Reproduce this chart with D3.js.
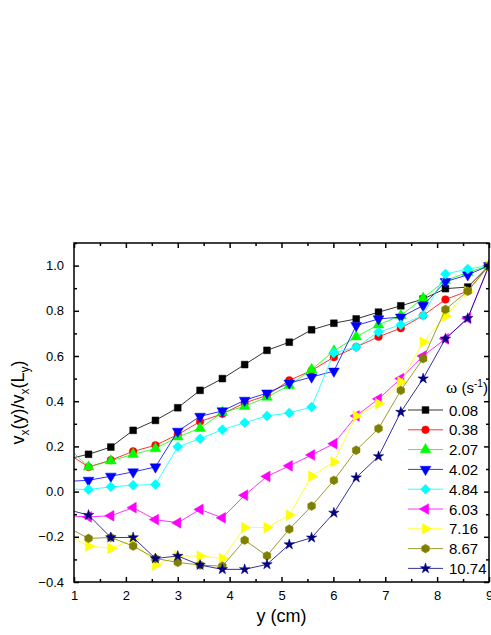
<!DOCTYPE html>
<html>
<head>
<meta charset="utf-8">
<script src="https://cdn.jsdelivr.net/npm/d3@7"></script>
<style>
  body { margin: 0; background: #fff; }
  text { font-family: Arial, "Liberation Sans", sans-serif; fill: #000; }
</style>
</head>
<body>
<div id="chart"></div>
<script>
// positions along y (cm); first point sits left of the axis and gets clipped
var yPos = [0.85, 1.28, 1.71, 2.14, 2.57, 3.0, 3.43, 3.86, 4.29, 4.72, 5.15, 5.58, 6.01, 6.44, 6.87, 7.3, 7.73, 8.16, 8.59, 9.0];

var omegaLabels = ["0.08", "0.38", "2.07", "4.02", "4.84", "6.03", "7.16", "8.67", "10.74"];

var v008 = [0.143, 0.165, 0.197, 0.271, 0.315, 0.371, 0.448, 0.50, 0.562, 0.625, 0.661, 0.716, 0.745, 0.764, 0.794, 0.822, 0.852, 0.898, 0.905, 1.0];
var v038 = [0.173, 0.109, 0.139, 0.178, 0.205, 0.252, 0.310, 0.344, 0.392, 0.426, 0.492, 0.536, 0.595, 0.640, 0.685, 0.723, 0.779, 0.850, 0.887, 1.0];
var v207 = [0.203, 0.109, 0.136, 0.165, 0.190, 0.242, 0.280, 0.350, 0.377, 0.418, 0.470, 0.540, 0.622, 0.685, 0.738, 0.779, 0.856, 0.934, 0.970, 1.0];
var v402 = [0.045, 0.050, 0.068, 0.087, 0.109, 0.267, 0.333, 0.357, 0.404, 0.436, 0.480, 0.507, 0.533, 0.735, 0.764, 0.772, 0.823, 0.929, 0.959, 1.0];
var v484 = [0.012, 0.009, 0.021, 0.028, 0.031, 0.198, 0.234, 0.274, 0.305, 0.335, 0.348, 0.374, 0.614, 0.639, 0.706, 0.738, 0.779, 0.963, 0.985, 1.0];
var v603 = [-0.107, -0.112, -0.107, -0.071, -0.124, -0.138, -0.079, -0.116, -0.016, 0.067, 0.114, 0.162, 0.212, 0.335, 0.410, 0.500, 0.600, 0.676, 0.767, 1.0];
var v716 = [-0.189, -0.241, -0.251, -0.212, -0.325, -0.285, -0.285, -0.296, -0.159, -0.159, -0.104, 0.068, 0.131, 0.335, 0.389, 0.485, 0.661, 0.776, 0.885, 1.0];
var v867 = [-0.155, -0.207, -0.203, -0.241, -0.296, -0.313, -0.325, -0.330, -0.215, -0.284, -0.166, -0.064, 0.050, 0.183, 0.279, 0.448, 0.588, 0.806, 0.887, 1.0];
var v1074 = [-0.078, -0.104, -0.203, -0.203, -0.296, -0.285, -0.325, -0.344, -0.344, -0.322, -0.234, -0.204, -0.094, 0.062, 0.156, 0.352, 0.500, 0.676, 0.767, 1.0];

var xTicks = [1, 2, 3, 4, 5, 6, 7, 8, 9];
var yTicks = [-0.4, -0.2, 0.0, 0.2, 0.4, 0.6, 0.8, 1.0];

var allValues = [v008, v038, v207, v402, v484, v603, v716, v867, v1074];
var colors = ["#000000", "#ff0000", "#00ff00", "#0000ff", "#00ffff", "#ff00ff", "#ffff00", "#808000", "#000080"];
var shapes = ["square", "circle", "up", "down", "diamond", "left", "right", "hex", "star"];

var series = omegaLabels.map(function(lab, i) {
  return {
    label: lab, color: colors[i], shape: shapes[i],
    points: yPos.map(function(x, j) { return {x: x, v: allValues[i][j]}; })
  };
});

var margin = {top: 243, right: 2, bottom: 53, left: 74};
var W = 491, H = 635;
var width = W - margin.left - margin.right;
var height = H - margin.top - margin.bottom;

var x = d3.scaleLinear().domain([1, 9]).range([0, width]);
var y = d3.scaleLinear().domain([-0.4, 1.1]).range([height, 0]);

var svg = d3.select("#chart").append("svg")
  .attr("width", W)
  .attr("height", H)
  .append("g")
  .attr("transform", "translate(" + margin.left + "," + margin.top + ")");

svg.append("clipPath").attr("id", "clip")
  .append("rect").attr("width", width).attr("height", height);

function markerPath(shape) {
  if (shape == "square") return d3.symbol(d3.symbolSquare, 46)();
  if (shape == "circle") return d3.symbol(d3.symbolCircle, 46)();
  if (shape == "diamond") return "M0,-5L5,0L0,5L-5,0Z";
  if (shape == "star") return d3.symbol(d3.symbolStar, 34)();
  if (shape == "hex") {
    var r = 4.4, pts = [];
    for (var k = 0; k < 6; k++) {
      var a = Math.PI / 6 + k * Math.PI / 3;
      pts.push([r * Math.cos(a), r * Math.sin(a)]);
    }
    return "M" + pts.join("L") + "Z";
  }
  return d3.symbol(d3.symbolTriangle, 50)();
}
function markerRot(shape) {
  if (shape == "down") return 180;
  if (shape == "left") return -90;
  if (shape == "right") return 90;
  return 0;
}

var line = d3.line()
  .x(function(d) { return x(d.x); })
  .y(function(d) { return y(d.v); });

var plot = svg.append("g").attr("clip-path", "url(#clip)");

series.forEach(function(s) {
  plot.append("path")
    .datum(s.points)
    .attr("fill", "none")
    .attr("stroke", s.color)
    .attr("stroke-width", 0.8)
    .attr("d", line);
  plot.selectAll(null)
    .data(s.points)
    .enter().append("path")
    .attr("d", markerPath(s.shape))
    .attr("transform", function(d) {
      return "translate(" + x(d.x) + "," + y(d.v) + ") rotate(" + markerRot(s.shape) + ")";
    })
    .attr("fill", s.color)
    .attr("stroke", s.color)
    .attr("stroke-width", 0.5);
});

// axes on all four sides, ticks pointing inward
var xMinor = d3.range(1.5, 9, 1);
var yMinor = d3.range(-0.3, 1.1, 0.2).concat([1.1]);

function styleAxis(g) {
  g.select(".domain").remove();
  g.selectAll(".tick line").attr("stroke", "#000").attr("stroke-width", 1.5);
  g.selectAll(".tick text").style("font-size", "13px").style("font-family", "Arial, 'Liberation Sans', sans-serif");
}

svg.append("g")
  .attr("transform", "translate(0," + height + ")")
  .call(d3.axisBottom(x).tickValues(xTicks).tickSize(-5).tickPadding(9).tickFormat(d3.format("d")))
  .call(styleAxis);
svg.append("g")
  .attr("transform", "translate(0," + height + ")")
  .call(d3.axisBottom(x).tickValues(xMinor).tickSize(-3).tickFormat(""))
  .call(styleAxis);
svg.append("g")
  .call(d3.axisTop(x).tickValues(xTicks).tickSize(-5).tickFormat(""))
  .call(styleAxis);
svg.append("g")
  .call(d3.axisTop(x).tickValues(xMinor).tickSize(-3).tickFormat(""))
  .call(styleAxis);

svg.append("g")
  .call(d3.axisLeft(y).tickValues(yTicks).tickSize(-5).tickPadding(10).tickFormat(d3.format(".1f")))
  .call(styleAxis);
svg.append("g")
  .call(d3.axisLeft(y).tickValues(yMinor).tickSize(-3).tickFormat(""))
  .call(styleAxis);
svg.append("g")
  .attr("transform", "translate(" + width + ",0)")
  .call(d3.axisRight(y).tickValues(yTicks).tickSize(-5).tickFormat(""))
  .call(styleAxis);
svg.append("g")
  .attr("transform", "translate(" + width + ",0)")
  .call(d3.axisRight(y).tickValues(yMinor).tickSize(-3).tickFormat(""))
  .call(styleAxis);

svg.append("rect")
  .attr("width", width)
  .attr("height", height)
  .attr("fill", "none")
  .attr("stroke", "#000")
  .attr("stroke-width", 1.5);

// axis titles
svg.append("text")
  .attr("x", x(5))
  .attr("y", height + 40)
  .attr("text-anchor", "middle")
  .style("font-size", "18px")
  .text("y (cm)");

var yl = svg.append("text")
  .attr("transform", "translate(-50," + (height / 2 - 10) + ") rotate(-90)")
  .attr("text-anchor", "middle")
  .style("font-size", "18px");
yl.append("tspan").text("v");
yl.append("tspan").attr("dy", 5).style("font-size", "12px").text("x");
yl.append("tspan").attr("dy", -5).text("(y)/v");
yl.append("tspan").attr("dy", 5).style("font-size", "12px").text("x");
yl.append("tspan").attr("dy", -5).text("(L");
yl.append("tspan").attr("dy", 5).style("font-size", "12px").text("y");
yl.append("tspan").attr("dy", -5).text(")");

// legend
var legend = svg.append("g").attr("transform", "translate(" + (334) + "," + 145 + ")");
var lt = legend.append("text")
  .attr("x", 59).attr("y", 5)
  .attr("text-anchor", "middle")
  .style("font-size", "15px");
lt.append("tspan").style("font-family", "'Liberation Serif', 'Times New Roman', serif").style("font-size", "17px").text("ω");
lt.append("tspan").text(" (s");
lt.append("tspan").attr("dy", -6).style("font-size", "10px").text("-1");
lt.append("tspan").attr("dy", 6).text(")");

series.forEach(function(s, i) {
  var row = legend.append("g").attr("transform", "translate(0," + (22 + i * 19.8) + ")");
  row.append("line")
    .attr("x1", 0).attr("x2", 35)
    .attr("stroke", s.color).attr("stroke-width", 0.8);
  row.append("path")
    .attr("d", markerPath(s.shape))
    .attr("transform", "translate(17.5,0) rotate(" + markerRot(s.shape) + ")")
    .attr("fill", s.color).attr("stroke", s.color).attr("stroke-width", 0.5);
  row.append("text")
    .attr("x", 41).attr("y", 5.5)
    .style("font-size", "15px")
    .text(s.label);
});
</script>
</body>
</html>
